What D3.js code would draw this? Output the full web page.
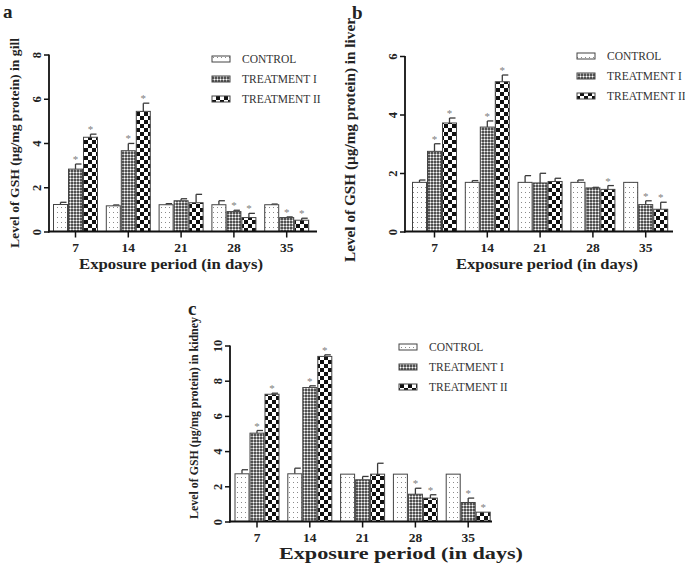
<!DOCTYPE html>
<html><head><meta charset="utf-8">
<script src="https://cdn.jsdelivr.net/npm/d3@7"></script>
<style>body{margin:0;background:#fff}svg{display:block}text{font-family:"Liberation Serif","Times New Roman",serif}</style>
</head><body>
<script>
// ---- data ----
const categories = ["7", "14", "21", "28", "35"];
const seriesNames = ["CONTROL", "TREATMENT I", "TREATMENT II"];

// gill
const gillControl = [1.22, 1.16, 1.21, 1.21, 1.21];
const gillT1 = [2.82, 3.65, 1.39, 0.90, 0.63];
const gillT2 = [4.26, 5.43, 1.30, 0.63, 0.51];
const gillControlErr = [0.10, 0.04, 0.05, 0.18, 0.03];
const gillT1Err = [0.23, 0.33, 0.09, 0.06, 0.03];
const gillT2Err = [0.14, 0.37, 0.38, 0.19, 0.09];
const gillT1Sig = [1, 1, 0, 1, 1];
const gillT2Sig = [1, 1, 0, 1, 1];
const gillTicks = [0, 2, 4, 6, 8];

// liver
const liverControl = [1.68, 1.68, 1.68, 1.68, 1.68];
const liverT1 = [2.74, 3.57, 1.66, 1.49, 0.92];
const liverT2 = [3.71, 5.12, 1.71, 1.44, 0.76];
const liverControlErr = [0.08, 0.06, 0.23, 0.08, 0];
const liverT1Err = [0.26, 0.21, 0.33, 0.02, 0.13];
const liverT2Err = [0.17, 0.23, 0.11, 0.13, 0.24];
const liverT1Sig = [1, 1, 0, 0, 1];
const liverT2Sig = [1, 1, 0, 1, 1];
const liverTicks = [0, 2, 4, 6];

// kidney
const kidneyControl = [2.71, 2.71, 2.69, 2.69, 2.69];
const kidneyT1 = [5.02, 7.61, 2.37, 1.55, 1.08];
const kidneyT2 = [7.23, 9.38, 2.69, 1.33, 0.53];
const kidneyControlErr = [0.23, 0.32, 0, 0, 0];
const kidneyT1Err = [0.15, 0.10, 0.19, 0.34, 0.25];
const kidneyT2Err = [0.06, 0.09, 0.62, 0.19, 0];
const kidneyT1Sig = [1, 1, 0, 1, 1];
const kidneyT2Sig = [1, 1, 0, 1, 1];
const kidneyTicks = [0, 2, 4, 6, 8, 10];

const xTitle = "Exposure period (in days)";

// ---- drawing ----
const svg = d3.select("body").append("svg").attr("width", 685).attr("height", 564);
const defs = svg.append("defs");

// control: dotted white
const pC = defs.append("pattern").attr("id", "pC").attr("patternUnits", "userSpaceOnUse").attr("width", 4).attr("height", 5);
pC.append("rect").attr("width", 4).attr("height", 5).attr("fill", "#fff");
pC.append("rect").attr("x", 1).attr("y", 2).attr("width", 1).attr("height", 1).attr("fill", "#8a8a8a");
// treatment I: fine grey texture
const p1 = defs.append("pattern").attr("id", "p1").attr("patternUnits", "userSpaceOnUse").attr("width", 3).attr("height", 3);
p1.append("rect").attr("width", 3).attr("height", 3).attr("fill", "#505050");
[[0, 1], [1, 0], [2, 1], [1, 2]].forEach(([px, py]) =>
  p1.append("rect").attr("x", px).attr("y", py).attr("width", 1).attr("height", 1).attr("fill", "#aaa"));
p1.append("rect").attr("x", 1).attr("y", 1).attr("width", 1).attr("height", 1).attr("fill", "#fff");
// treatment II: checkerboard
const p2 = defs.append("pattern").attr("id", "p2").attr("patternUnits", "userSpaceOnUse").attr("width", 8).attr("height", 8);
p2.append("rect").attr("width", 8).attr("height", 8).attr("fill", "#fff");
p2.append("rect").attr("width", 4).attr("height", 4).attr("fill", "#111");
p2.append("rect").attr("x", 4).attr("y", 4).attr("width", 4).attr("height", 4).attr("fill", "#111");
const fills = ["url(#pC)", "url(#p1)", "url(#p2)"];

function drawPanel(cfg) {
  const g = svg.append("g");
  const y = d3.scaleLinear().domain([0, cfg.ticks[cfg.ticks.length - 1]]).range([cfg.y0, cfg.yTop]);
  const groupW = 45, step = 52.8;
  const x = d3.scaleBand().domain(categories).range([cfg.g0, cfg.g0 + 4 * step + groupW])
    .paddingInner((step - groupW) / step).paddingOuter(0);
  const xs = d3.scaleBand().domain(seriesNames).range([0, x.bandwidth()]);

  const rows = [];
  cfg.series.forEach((vals, si) => {
    vals.forEach((v, ci) => rows.push({ s: seriesNames[si], si, c: categories[ci], v, e: cfg.errs[si][ci], sig: cfg.sigs[si] ? cfg.sigs[si][ci] : 0 }));
  });

  // error bars (upper half only)
  const eb = g.append("g").attr("stroke", "#3a3a3a").attr("stroke-width", 1.3).attr("fill", "none");
  rows.filter(d => d.e > 0).forEach(d => {
    const cx = x(d.c) + xs(d.s) + xs.bandwidth() / 2;
    eb.append("line").attr("x1", cx).attr("x2", cx).attr("y1", y(d.v)).attr("y2", y(d.v + d.e));
    eb.append("line").attr("x1", cx).attr("x2", cx + 6).attr("y1", y(d.v + d.e)).attr("y2", y(d.v + d.e));
  });

  g.append("g").selectAll("rect").data(rows).join("rect")
    .attr("x", d => x(d.c) + xs(d.s) + 0.5)
    .attr("width", xs.bandwidth() - 1)
    .attr("y", d => y(d.v))
    .attr("height", d => cfg.y0 - y(d.v))
    .attr("fill", d => fills[d.si])
    .attr("stroke", "#444").attr("stroke-width", 1);

  g.append("g").selectAll("text").data(rows.filter(d => d.sig)).join("text")
    .attr("x", d => x(d.c) + xs(d.s) + xs.bandwidth() / 2)
    .attr("y", d => y(d.v + d.e) - 1)
    .attr("text-anchor", "middle").attr("font-size", 11).attr("fill", "#808080")
    .text("*");

  // y axis
  const ya = g.append("g").attr("transform", `translate(${cfg.xa},0)`)
    .call(d3.axisLeft(y).tickValues(cfg.ticks).tickFormat(d3.format("d")).tickSize(5).tickSizeOuter(0).tickPadding(6));
  ya.select(".domain").remove();
  ya.selectAll("line").attr("stroke", "#111").attr("stroke-width", 1.5);
  ya.selectAll("text").attr("font-size", 12.5).attr("font-weight", "bold").attr("fill", "#222")
    .attr("text-anchor", "middle").attr("dy", null)
    .attr("transform", "translate(-12,0) rotate(-90)")
    .attr("x", 0).attr("y", 4);
  g.append("line").attr("x1", cfg.xa).attr("x2", cfg.xa).attr("y1", cfg.y0 + 1).attr("y2", cfg.yTop)
    .attr("stroke", "#111").attr("stroke-width", 1.8);

  // x axis
  const xa = g.append("g").attr("transform", `translate(0,${cfg.y0})`)
    .call(d3.axisBottom(x).tickSize(6).tickSizeOuter(0).tickPadding(5));
  xa.select(".domain").remove();
  xa.selectAll("line").attr("stroke", "#111").attr("stroke-width", 1.5);
  xa.selectAll("text").attr("font-size", 13.5).attr("font-weight", "bold").attr("fill", "#222");
  g.append("line").attr("x1", cfg.xa - 1).attr("x2", cfg.xe).attr("y1", cfg.y0).attr("y2", cfg.y0)
    .attr("stroke", "#111").attr("stroke-width", 1.8);

  // titles
  g.append("text").attr("x", cfg.xt[0]).attr("y", cfg.xt[1])
    .attr("textLength", cfg.xt[2]).attr("lengthAdjust", "spacingAndGlyphs")
    .attr("font-size", cfg.xt[3]).attr("font-weight", "bold").attr("fill", "#222").text(xTitle);
  g.append("text").attr("transform", `translate(${cfg.yt[0]},${cfg.yt[1]}) rotate(-90)`)
    .attr("textLength", cfg.yt[2]).attr("lengthAdjust", "spacingAndGlyphs")
    .attr("font-size", cfg.yt[3]).attr("font-weight", "bold").attr("fill", "#222").text(cfg.yTitle);
  g.append("text").attr("x", cfg.lbl[0]).attr("y", cfg.lbl[1]).attr("font-size", 19)
    .attr("font-weight", "bold").attr("fill", "#222").text(cfg.letter);

  // legend
  const lg = g.append("g");
  seriesNames.forEach((s, i) => {
    const ly = cfg.leg[1] + i * 20;
    lg.append("rect").attr("x", cfg.leg[0]).attr("y", ly - 3).attr("width", 18).attr("height", 6)
      .attr("fill", fills[i]).attr("stroke", "#444").attr("stroke-width", 1);
    lg.append("text").attr("x", cfg.leg[0] + 30).attr("y", ly + 4).attr("font-size", 11.5)
      .attr("fill", "#333").text(s);
  });
}

drawPanel({
  letter: "a", lbl: [3, 18],
  series: [gillControl, gillT1, gillT2], errs: [gillControlErr, gillT1Err, gillT2Err], sigs: [null, gillT1Sig, gillT2Sig],
  ticks: gillTicks, xa: 49, xe: 317, g0: 53, y0: 231.5, yTop: 54.5,
  yTitle: "Level of GSH (µg/mg protein) in gill", yt: [19, 248, 210, 13],
  xt: [79, 269, 184, 14.5], leg: [212, 59]
});
drawPanel({
  letter: "b", lbl: [352, 19],
  series: [liverControl, liverT1, liverT2], errs: [liverControlErr, liverT1Err, liverT2Err], sigs: [null, liverT1Sig, liverT2Sig],
  ticks: liverTicks, xa: 405, xe: 673, g0: 412, y0: 231.5, yTop: 56,
  yTitle: "Level of GSH (µg/mg protein) in liver", yt: [355, 262, 244, 14],
  xt: [456, 269, 182, 14.5], leg: [577, 56]
});
drawPanel({
  letter: "c", lbl: [188, 315],
  series: [kidneyControl, kidneyT1, kidneyT2], errs: [kidneyControlErr, kidneyT1Err, kidneyT2Err], sigs: [null, kidneyT1Sig, kidneyT2Sig],
  ticks: kidneyTicks, xa: 230, xe: 492, g0: 234.5, y0: 521.5, yTop: 345.5,
  yTitle: "Level of GSH (µg/mg protein) in kidney", yt: [198, 519, 202, 12.5],
  xt: [279, 559, 244, 16.5], leg: [399, 347]
});
</script>
</body></html>
